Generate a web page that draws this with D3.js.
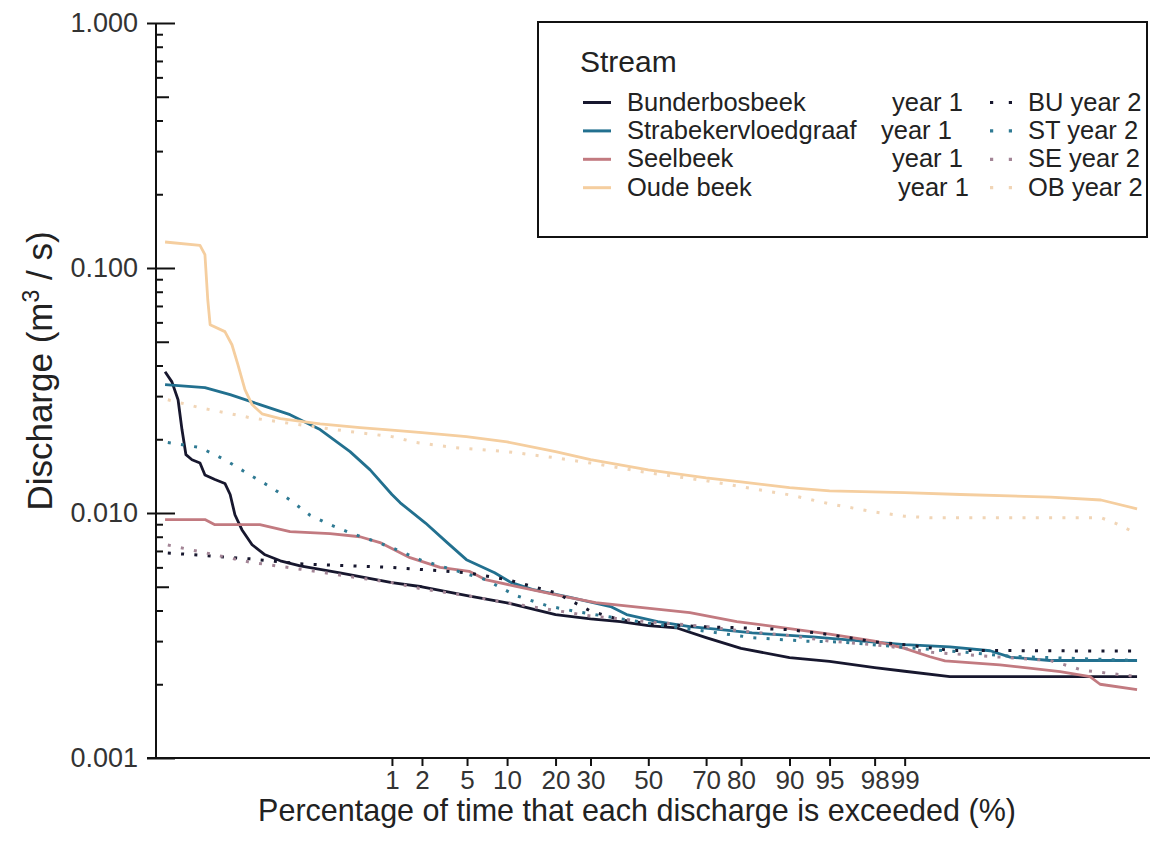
<!DOCTYPE html>
<html><head><meta charset="utf-8">
<script src="https://cdn.jsdelivr.net/npm/d3@7"></script>
<style>
html,body{margin:0;padding:0;background:#fff;}
svg{display:block;font-family:"Liberation Sans",Arial,sans-serif;}
</style></head>
<body>
<svg id="chart" width="1173" height="852"></svg>
<script>
// ---------------- data ----------------
const xTickPct = [1, 2, 5, 10, 20, 30, 50, 70, 80, 90, 95, 98, 99];
const xTickLabels = ["1","2","5","10","20","30","50","70","80","90","95","98","99"];
const yMajorTicks = [0.001, 0.01, 0.1, 1];
const yTickLabels = ["0.001","0.010","0.100","1.000"];

const streams = ["Bunderbosbeek", "Strabekervloedgraaf", "Seelbeek", "Oude beek"];
const year2Labels = ["BU year 2", "ST year 2", "SE year 2", "OB year 2"];
const colorsYear1 = ["#17172e", "#22708f", "#c27a80", "#f5ce9f"];
const colorsYear2 = ["#17172e", "#2f7a93", "#a38596", "#f1d5b6"];

// exceedance percentage (%) and discharge (m3/s)
const bu1Pct = [0.00058,0.00077,0.00099,0.00116,0.00136,0.00173,0.00237,0.00287,0.0042,0.0061,0.0074,0.0088,0.0113,0.0162,0.0253,0.042,0.079,0.257,1,2,5,10,20,30,40,50,60,70,80,90,95,98,99,99.69,99.99954];
const bu1Q   = [0.0377,0.0343,0.0290,0.0219,0.0173,0.0165,0.0160,0.0143,0.0137,0.0132,0.0119,0.00984,0.00855,0.00742,0.00675,0.00638,0.00609,0.0057,0.0052,0.0050,0.0046,0.0043,0.00385,0.0037,0.0036,0.00347,0.0034,0.0031,0.0028,0.00257,0.00248,0.00234,0.00226,0.00215,0.00215];

const bu2Pct = [0.00065,0.015,0.079,1,5,10,20,30,40,50,70,80,90,95,98,99,99.69,99.99954];
const bu2Q   = [0.00687,0.0065,0.0062,0.0060,0.0057,0.00535,0.00473,0.00398,0.00366,0.00353,0.00343,0.0034,0.00334,0.00319,0.00298,0.0029,0.00275,0.00273];

const st1Pct = [0.00058,0.00287,0.0074,0.0212,0.0575,0.145,0.34,0.58,1,1.22,2.16,3.42,4.94,8.16,10.6,14.6,23.9,36.6,42.2,53.4,64.7,74.5,82.7,93.2,98,99,99.69,99.904,99.9485,99.9867,99.99954];
const st1Q   = [0.0334,0.0325,0.0304,0.0277,0.0252,0.0219,0.0178,0.0150,0.0119,0.0110,0.0091,0.00755,0.00645,0.0057,0.00521,0.00488,0.00453,0.00415,0.00385,0.0036,0.00344,0.00334,0.00324,0.00312,0.00297,0.0029,0.00284,0.00274,0.00258,0.0025,0.0025];

const st2Pct = [0.00065,0.00237,0.0061,0.015,0.030,0.0575,0.107,0.194,0.34,0.58,1,2,4.94,6.95,11.5,18.2,26.6,36.6,53.4,82.7,92.3,96.2,98.6,99.8,99.95,99.99954];
const st2Q   = [0.0194,0.0185,0.0165,0.0143,0.0128,0.0113,0.0098,0.00896,0.0083,0.00778,0.00722,0.0064,0.00565,0.00535,0.0046,0.00417,0.00394,0.00376,0.0035,0.0031,0.0030,0.00297,0.00286,0.0027,0.0026,0.0025];

const se1Pct = [0.00058,0.00287,0.0042,0.0212,0.0575,0.194,0.445,0.745,1.53,2.94,5.2,6.95,11.5,22.1,31.6,47.9,64.7,78.9,89.1,95,98,99,99.47,99.645,99.929,99.9907,99.99694,99.99793,99.99954];
const se1Q   = [0.0094,0.0094,0.00896,0.00896,0.0084,0.00823,0.0080,0.00757,0.00657,0.0060,0.00578,0.00535,0.00502,0.00457,0.00431,0.00411,0.00392,0.0036,0.0034,0.0032,0.0030,0.0028,0.00259,0.00249,0.0024,0.00225,0.00215,0.0020,0.0019];

const se2Pct = [0.00065,0.00237,0.015,0.079,0.34,1,2,5,10,20,30,50,70,80,90,95,98,99,99.5,99.9,99.9867,99.996,99.99954];
const se2Q   = [0.0074,0.00695,0.0063,0.0059,0.0055,0.0052,0.0049,0.0046,0.0043,0.0040,0.0038,0.0036,0.00344,0.0033,0.00316,0.0030,0.0029,0.0028,0.0027,0.0026,0.0025,0.00228,0.00215];

const ob1Pct = [0.00058,0.00237,0.00287,0.0032,0.0035,0.0061,0.0079,0.0098,0.0126,0.0162,0.0228,0.042,0.145,0.445,1,2,4.94,10,20,30,50,70,80,90,95,99,99.77,99.987,99.998,99.99954];
const ob1Q   = [0.1277,0.1236,0.1133,0.0742,0.0587,0.0550,0.0486,0.0403,0.0319,0.0277,0.0254,0.0243,0.0231,0.0223,0.0218,0.0213,0.0205,0.0195,0.0178,0.0165,0.0150,0.0139,0.0134,0.0127,0.0123,0.0121,0.0119,0.0116,0.0113,0.0104];

const ob2Pct = [0.00065,0.00237,0.015,0.079,0.34,1,1.77,3.9,10,20,30,50,70,80,90,95,98,99,99.47,99.998,99.99886,99.99924,99.9995];
const ob2Q   = [0.0290,0.0269,0.0245,0.0229,0.0215,0.0205,0.0194,0.0185,0.0178,0.0168,0.0160,0.0146,0.01354,0.0128,0.01186,0.0109,0.0101,0.0097,0.00957,0.00957,0.0091,0.0087,0.0083];

// ---------------- helpers ----------------
function probit(p){
  const a=[-3.969683028665376e+01,2.209460984245205e+02,-2.759285104469687e+02,1.383577518672690e+02,-3.066479806614716e+01,2.506628277459239e+00];
  const b=[-5.447609879822406e+01,1.615858368580409e+02,-1.556989798598866e+02,6.680131188771972e+01,-1.328068155288572e+01];
  const c=[-7.784894002430293e-03,-3.223964580411365e-01,-2.400758277161838e+00,-2.549732539343734e+00,4.374664141464968e+00,2.938163982698783e+00];
  const d=[7.784695709041462e-03,3.224671290700398e-01,2.445134137142996e+00,3.754408661907416e+00];
  const pl=0.02425, ph=1-pl; let q,r;
  if(p<pl){q=Math.sqrt(-2*Math.log(p));return (((((c[0]*q+c[1])*q+c[2])*q+c[3])*q+c[4])*q+c[5])/((((d[0]*q+d[1])*q+d[2])*q+d[3])*q+1);}
  if(p<=ph){q=p-0.5;r=q*q;return (((((a[0]*r+a[1])*r+a[2])*r+a[3])*r+a[4])*r+a[5])*q/(((((b[0]*r+b[1])*r+b[2])*r+b[3])*r+b[4])*r+1);}
  q=Math.sqrt(-2*Math.log(1-p));return -(((((c[0]*q+c[1])*q+c[2])*q+c[3])*q+c[4])*q+c[5])/((((d[0]*q+d[1])*q+d[2])*q+d[3])*q+1);
}

// ---------------- layout ----------------
const FONT = '"Liberation Sans",Arial,sans-serif';
const svg = d3.select("#chart");
const X0 = 156, X1 = 1150, Y0 = 758, Y1 = 23;
const zC = 648.3, zUnit = 110.2;
const x = d3.scaleLinear().domain([(X0 - zC)/zUnit, (X1 - zC)/zUnit]).range([X0, X1]);
const y = d3.scaleLog().domain([0.001, 1]).range([Y0, Y1]);
const px = p => x(probit(p/100));

// y axis: outer major ticks + labels
const gy = svg.append("g").attr("transform", `translate(${X0},0)`)
  .call(d3.axisLeft(y).tickValues(yMajorTicks).tickSize(9).tickPadding(9)
        .tickFormat((d,i)=>yTickLabels[i]));
gy.select(".domain").remove();
gy.selectAll("text").attr("font-size", 27).attr("fill", "#333").attr("font-family", FONT);
gy.selectAll("line").attr("stroke", "#111").attr("stroke-width", 2);

// y inner ticks (major, 5s, other minors)
const minor = [];
[0.001, 0.01, 0.1].forEach(dec => { for (let k = 2; k <= 9; k++) minor.push(dec*k); });
const isFive = v => Math.abs(v/Math.pow(10, Math.floor(Math.log10(v)+1e-9)) - 5) < 1e-6;
function innerTicks(vals, len){
  const g = svg.append("g").attr("transform", `translate(${X0},0)`)
    .call(d3.axisRight(y).tickValues(vals).tickSize(len).tickFormat(""));
  g.select(".domain").remove();
  g.selectAll("line").attr("stroke", "#111").attr("stroke-width", 2);
}
innerTicks(yMajorTicks, 19);
innerTicks(minor.filter(isFive), 13);
innerTicks(minor.filter(v => !isFive(v)), 7);

// y axis line
svg.append("line").attr("x1", X0).attr("x2", X0).attr("y1", Y1).attr("y2", Y0)
  .attr("stroke", "#111").attr("stroke-width", 2);

// x axis
const gx = svg.append("g").attr("transform", `translate(0,${Y0})`)
  .call(d3.axisBottom(x).tickValues(xTickPct.map(p => probit(p/100))).tickSize(8).tickPadding(5)
        .tickFormat((d,i)=>xTickLabels[i]));
gx.select(".domain").remove();
gx.selectAll("text").attr("font-size", 26).attr("fill", "#333").attr("font-family", FONT);
gx.selectAll("line").attr("stroke", "#111").attr("stroke-width", 2);
svg.append("line").attr("x1", 147).attr("x2", X1).attr("y1", Y0).attr("y2", Y0)
  .attr("stroke", "#111").attr("stroke-width", 2);

// axis titles
svg.append("text").attr("x", 637).attr("y", 821).attr("text-anchor", "middle")
  .attr("font-size", 30.5).attr("fill", "#222")
  .text("Percentage of time that each discharge is exceeded (%)");
const yt = svg.append("text").attr("transform", `translate(52,371) rotate(-90)`)
  .attr("text-anchor", "middle").attr("font-size", 35).attr("fill", "#222");
yt.append("tspan").text("Discharge (m");
yt.append("tspan").attr("font-size", 23).attr("dy", -13).text("3");
yt.append("tspan").attr("dy", 13).text(" / s)");

// ---------------- lines ----------------
const line = d3.line().x(d => px(d[0])).y(d => y(d[1]));
const seriesYear1 = [[bu1Pct, bu1Q], [st1Pct, st1Q], [se1Pct, se1Q], [ob1Pct, ob1Q]];
const seriesYear2 = [[bu2Pct, bu2Q], [st2Pct, st2Q], [se2Pct, se2Q], [ob2Pct, ob2Q]];

seriesYear1.forEach((s, i) => {
  svg.append("path").datum(d3.zip(s[0], s[1])).attr("d", line)
    .attr("fill", "none").attr("stroke", colorsYear1[i]).attr("stroke-width", 2.8)
    .attr("stroke-linejoin", "round");
});
seriesYear2.forEach((s, i) => {
  svg.append("path").datum(d3.zip(s[0], s[1])).attr("d", line)
    .attr("fill", "none").attr("stroke", colorsYear2[i]).attr("stroke-width", 3)
    .attr("stroke-dasharray", "3 10.3");
});

// ---------------- legend ----------------
const lg = svg.append("g");
lg.append("rect").attr("x", 538).attr("y", 22).attr("width", 609).attr("height", 215)
  .attr("fill", "#fff").attr("stroke", "#111").attr("stroke-width", 2);
lg.append("text").attr("x", 580).attr("y", 72).attr("font-size", 30).attr("fill", "#222").text("Stream");
const rowY = [110.5, 138.9, 167.3, 195.7];
const yearX = [892, 881, 892, 898];
streams.forEach((s, i) => {
  const yy = rowY[i];
  lg.append("line").attr("x1", 583).attr("x2", 611).attr("y1", yy - 8).attr("y2", yy - 8)
    .attr("stroke", colorsYear1[i]).attr("stroke-width", 3);
  lg.append("text").attr("x", 627).attr("y", yy).attr("font-size", 25.5).attr("fill", "#222").text(s);
  lg.append("text").attr("x", yearX[i]).attr("y", yy).attr("font-size", 25.5).attr("fill", "#222").text("year 1");
  lg.append("line").attr("x1", 990).attr("x2", 1012).attr("y1", yy - 8).attr("y2", yy - 8)
    .attr("stroke", colorsYear2[i]).attr("stroke-width", 3.2).attr("stroke-dasharray", "3.2 15.6");
  lg.append("text").attr("x", 1028).attr("y", yy).attr("font-size", 25.5).attr("fill", "#222").text(year2Labels[i]);
});
</script>
</body></html>
